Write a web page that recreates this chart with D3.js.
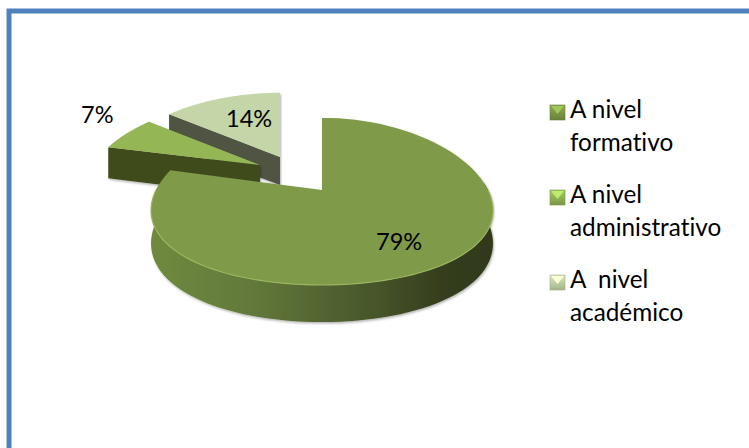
<!DOCTYPE html>
<html><head><meta charset="utf-8">
<script src="https://cdn.jsdelivr.net/npm/d3@7/dist/d3.min.js"></script>
<style>html,body{margin:0;padding:0;background:#fff}svg{display:block}text{font-family:Lato,sans-serif;fill:#000;font-variant-ligatures:none}</style>
</head><body><svg id="c" width="749" height="448"></svg>
<script>
const categories=["A nivel formativo","A nivel administrativo","A  nivel académico"];
const values=[79,7,14];
const labels=["79%","7%","14%"];
const legendLines=[["A nivel","formativo"],["A nivel","administrativo"],["A  nivel","académico"]];
const topColors=["#7f9a48","#94b655","#c4d5a8"];
const wallColors=["#414b1f","#414b1f","#4f5543"];
const svg=d3.select("#c");
const defs=svg.append("defs");
const blur=defs.append("filter").attr("id","sh").attr("x","-10%").attr("y","-10%").attr("width","120%").attr("height","125%");
blur.append("feDropShadow").attr("dx",1).attr("dy",1.5).attr("stdDeviation",1.2).attr("flood-color","#000").attr("flood-opacity",.3);
const rim=defs.append("linearGradient").attr("id","rim").attr("gradientUnits","userSpaceOnUse").attr("x1",152).attr("x2",495).attr("y1",0).attr("y2",0);
[[0,"#6f8a3e"],[.3,"#62783a"],[.65,"#47552a"],[.85,"#343d1c"],[1,"#30381a"]].forEach(s=>rim.append("stop").attr("offset",s[0]).attr("stop-color",s[1]));
categories.forEach((c,i)=>{
  const g=defs.append("linearGradient").attr("id","lg"+i).attr("x1",0).attr("x2",0).attr("y1",0).attr("y2",1);
  g.append("stop").attr("offset",0).attr("stop-color",d3.color(topColors[i]).brighter(.3));
  g.append("stop").attr("offset",1).attr("stop-color",d3.color(topColors[i]).darker(.5));
});

// frame
svg.append("path").attr("d","M9 448V11H749").attr("fill","none").attr("stroke","#4f81bd").attr("stroke-width",5);

const arcs=d3.pie().sort(null).value(d=>d)(values);
const R=166,RY=82,KX=.24,KY=.137,D=32;
const anchors=[[322,190],[260,165],[280,157]];
const yScale=[1,.9,.89];
const proj=(a,i,h=0)=>{const c=anchors[i],u=Math.sin(a),v=Math.cos(a);
  const fy=1+KY*v;
  return [c[0]+R*u/(1+KX*v), c[1]-yScale[i]*RY*v/fy+h*D/fy];};
const line=d3.line();
const sample=(a0,a1,n=80)=>d3.range(n+1).map(i=>a0+(a1-a0)*i/n);
[2,1,0].forEach(i=>{
  const s=arcs[i],c=anchors[i],g=svg.append("g").attr("filter","url(#sh)");
  const ang=sample(s.startAngle,s.endAngle);
  if(i>0){
    const a=s.startAngle;
    g.append("path").attr("fill",wallColors[i]).attr("d",line([[c[0],c[1]],proj(a,i),proj(a,i,1),[c[0],c[1]+(i==2?28:32)]])+"Z");
  }
  if(i===0){
    const front=sample(Math.PI*.47,Math.PI*1.53);
    g.append("path").attr("fill","url(#rim)").attr("d",line(front.map(a=>proj(a,i)).concat(front.slice().reverse().map(a=>proj(a,i,1))))+"Z");
  }
  g.append("path").attr("fill",topColors[i]).attr("d",line([c].concat(ang.map(a=>proj(a,i))))+"Z");
  if(i===0){
    svg.append("path").attr("fill","none").attr("stroke","#9ab65f").attr("stroke-width",1.2)
      .attr("d",line(sample(Math.PI*.5,Math.PI*1.5).map(a=>proj(a,i))));
  }
});

// data labels
const labelPos=[[376,249.5],[81,123],[226,127]];
labels.forEach((t,i)=>svg.append("text").attr("x",labelPos[i][0]).attr("y",labelPos[i][1]).attr("font-size",23.5).text(t));

// legend
const legendY=d3.scalePoint().domain(categories).range([105,275]);
categories.forEach((c,i)=>{
  const y=legendY(c);
  svg.append("rect").attr("x",550).attr("y",y).attr("width",15).attr("height",15).attr("fill",`url(#lg${i})`).attr("stroke",d3.color(topColors[i]).darker(.6)).attr("stroke-width",.6);
  const tri=d3.line()([[551,y+1],[564,y+1],[557.5,y+9]]);
  svg.append("path").attr("d",tri+"Z").attr("fill",d3.color(topColors[i]).brighter(.7));
  legendLines[i].forEach((t,j)=>svg.append("text").attr("x",570).attr("y",y+13+j*33).attr("font-size",24.3).style("white-space","pre").text(t));
});
</script></body></html>
